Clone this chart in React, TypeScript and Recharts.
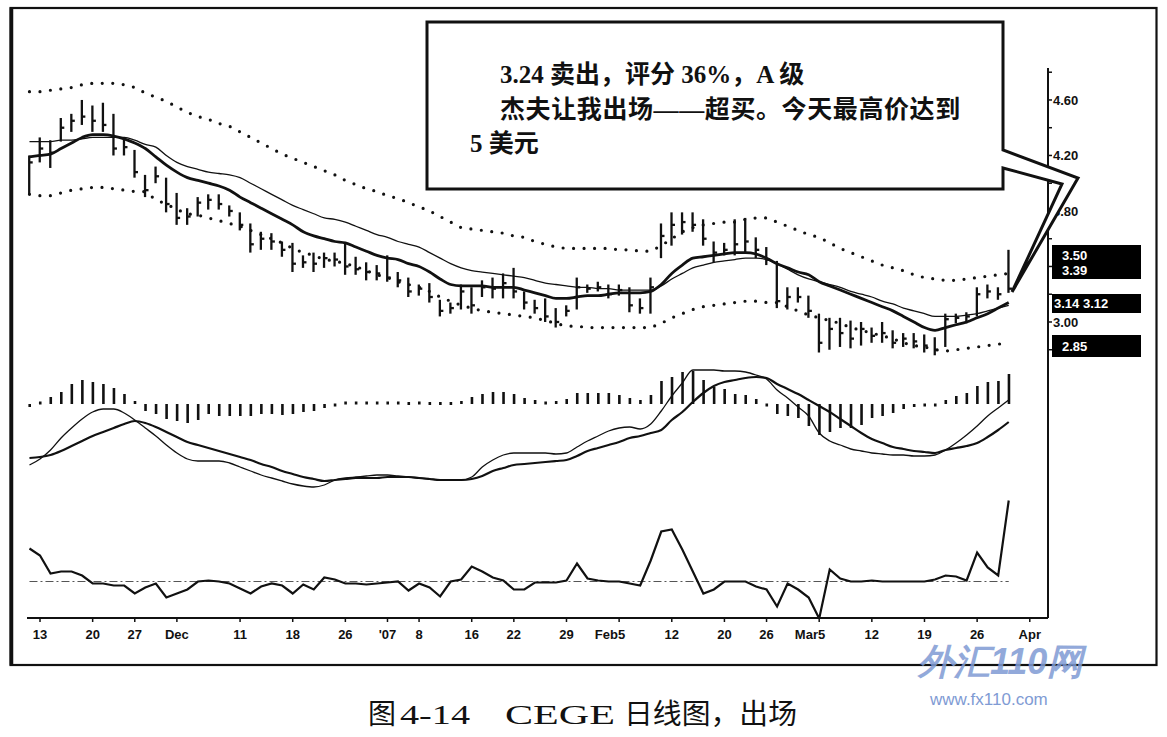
import React from 'react';
import { ComposedChart, Bar, Line, XAxis, YAxis, ReferenceLine } from 'recharts';

// trading-day index: 0 = Nov 13 2006, first bar is the Friday before
const firstDay = -1;

const highs = [
  4.20, 4.33, 4.31, 4.47, 4.50, 4.60, 4.56, 4.58, 4.50, 4.33,
  4.24, 4.06, 4.12, 4.04, 3.93, 3.82, 3.90, 3.92, 3.92, 3.84,
  3.79, 3.71, 3.65, 3.64, 3.58, 3.57, 3.48, 3.50, 3.50, 3.50,
  3.57, 3.47, 3.43, 3.41, 3.48, 3.36, 3.32, 3.27, 3.28, 3.16,
  3.14, 3.27, 3.25, 3.30, 3.32, 3.35, 3.39, 3.22, 3.16, 3.17,
  3.10, 3.12, 3.32, 3.27, 3.29, 3.27, 3.27, 3.25, 3.17, 3.32,
  3.71, 3.79, 3.79, 3.79, 3.74, 3.58, 3.57, 3.74, 3.75, 3.61,
  3.54, 3.44, 3.25, 3.25, 3.19, 3.06, 3.03, 3.03, 3.01, 3.00,
  2.96, 3.00, 2.94, 2.92, 2.92, 2.91, 2.89, 3.06, 3.06, 3.07,
  3.25, 3.27, 3.25, 3.52,
];
const lows = [
  3.92, 4.15, 4.11, 4.30, 4.37, 4.42, 4.37, 4.37, 4.20, 4.20,
  4.04, 3.90, 4.00, 3.79, 3.70, 3.70, 3.76, 3.81, 3.81, 3.76,
  3.66, 3.50, 3.52, 3.52, 3.47, 3.36, 3.39, 3.36, 3.39, 3.40,
  3.34, 3.34, 3.30, 3.30, 3.29, 3.25, 3.18, 3.19, 3.14, 3.04,
  3.06, 3.09, 3.06, 3.18, 3.17, 3.17, 3.17, 3.09, 3.06, 3.00,
  2.96, 3.04, 3.09, 3.21, 3.22, 3.17, 3.19, 3.07, 3.06, 3.06,
  3.46, 3.55, 3.63, 3.65, 3.55, 3.43, 3.48, 3.48, 3.50, 3.46,
  3.41, 3.10, 3.09, 3.14, 3.03, 2.78, 2.80, 2.82, 2.81, 2.83,
  2.85, 2.85, 2.81, 2.82, 2.81, 2.78, 2.76, 2.82, 2.99, 2.99,
  3.04, 3.17, 3.16, 3.21,
];
const closes = [
  4.15, 4.25, 4.22, 4.40, 4.45, 4.48, 4.45, 4.42, 4.25, 4.26,
  4.08, 3.95, 4.05, 3.85, 3.75, 3.76, 3.86, 3.88, 3.85, 3.80,
  3.70, 3.56, 3.60, 3.58, 3.52, 3.42, 3.43, 3.42, 3.46, 3.45,
  3.40, 3.38, 3.36, 3.35, 3.32, 3.30, 3.22, 3.24, 3.18, 3.08,
  3.10, 3.22, 3.12, 3.25, 3.24, 3.28, 3.22, 3.14, 3.10, 3.04,
  3.00, 3.08, 3.25, 3.24, 3.25, 3.20, 3.23, 3.12, 3.10, 3.25,
  3.62, 3.70, 3.72, 3.70, 3.60, 3.50, 3.52, 3.56, 3.58, 3.52,
  3.45, 3.15, 3.18, 3.18, 3.08, 2.85, 2.95, 2.92, 2.88, 2.95,
  2.90, 2.92, 2.85, 2.88, 2.86, 2.83, 2.80, 3.02, 3.03, 3.04,
  3.20, 3.22, 3.20, 3.24,
];
const fastMa = [
  4.19, 4.20, 4.21, 4.25, 4.29, 4.33, 4.35, 4.35, 4.34, 4.32,
  4.29, 4.25, 4.19, 4.13, 4.08, 4.04, 4.02, 4.00, 3.98, 3.95,
  3.90, 3.86, 3.82, 3.78, 3.74, 3.70, 3.65, 3.62, 3.60, 3.58,
  3.57, 3.54, 3.51, 3.48, 3.46, 3.45, 3.42, 3.40, 3.36, 3.31,
  3.27, 3.26, 3.26, 3.26, 3.25, 3.25, 3.25, 3.23, 3.21, 3.19,
  3.17, 3.17, 3.18, 3.19, 3.19, 3.20, 3.21, 3.21, 3.21, 3.22,
  3.27, 3.35, 3.41, 3.46, 3.47, 3.48, 3.49, 3.50, 3.50, 3.49,
  3.46, 3.42, 3.39, 3.36, 3.34, 3.29, 3.26, 3.23, 3.20, 3.17,
  3.14, 3.11, 3.08, 3.04, 3.00, 2.96, 2.94, 2.96, 2.98, 3.00,
  3.03, 3.06, 3.10, 3.14,
];
const slowMa = [
  4.30, 4.30, 4.30, 4.31, 4.31, 4.32, 4.33, 4.33, 4.33, 4.33,
  4.31, 4.28, 4.26, 4.20, 4.15, 4.12, 4.10, 4.08, 4.07, 4.06,
  4.04, 4.00, 3.96, 3.92, 3.88, 3.84, 3.81, 3.78, 3.75, 3.74,
  3.72, 3.69, 3.66, 3.63, 3.61, 3.58, 3.56, 3.54, 3.50, 3.46,
  3.42, 3.39, 3.37, 3.36, 3.35, 3.34, 3.33, 3.32, 3.30, 3.28,
  3.27, 3.26, 3.25, 3.25, 3.24, 3.24, 3.23, 3.23, 3.23, 3.23,
  3.26, 3.31, 3.35, 3.39, 3.41, 3.43, 3.44, 3.45, 3.46, 3.46,
  3.45, 3.42, 3.38, 3.34, 3.31, 3.29, 3.27, 3.25, 3.22, 3.20,
  3.18, 3.15, 3.13, 3.10, 3.08, 3.06, 3.04, 3.04, 3.04, 3.05,
  3.06, 3.08, 3.10, 3.12,
];
const upperBand = [
  4.66, 4.66, 4.67, 4.68, 4.69, 4.71, 4.72, 4.72, 4.72, 4.71,
  4.69, 4.65, 4.62, 4.59, 4.55, 4.51, 4.48, 4.46, 4.43, 4.41,
  4.37, 4.33, 4.29, 4.25, 4.21, 4.18, 4.15, 4.12, 4.09, 4.06,
  4.02, 3.99, 3.96, 3.94, 3.91, 3.89, 3.86, 3.83, 3.80, 3.76,
  3.72, 3.68, 3.67, 3.66, 3.65, 3.64, 3.62, 3.61, 3.58, 3.56,
  3.54, 3.53, 3.53, 3.53, 3.53, 3.53, 3.52, 3.52, 3.51, 3.51,
  3.55, 3.60, 3.65, 3.68, 3.70, 3.71, 3.72, 3.72, 3.74, 3.75,
  3.75, 3.72, 3.69, 3.66, 3.63, 3.61, 3.57, 3.53, 3.50, 3.47,
  3.44, 3.41, 3.39, 3.37, 3.34, 3.32, 3.31, 3.30, 3.30, 3.31,
  3.32, 3.33, 3.34, 3.35,
];
const lowerBand = [
  3.92, 3.91, 3.91, 3.93, 3.95, 3.96, 3.97, 3.97, 3.96, 3.95,
  3.94, 3.94, 3.88, 3.85, 3.81, 3.78, 3.77, 3.75, 3.73, 3.71,
  3.69, 3.66, 3.63, 3.60, 3.57, 3.53, 3.50, 3.48, 3.45, 3.44,
  3.42, 3.40, 3.37, 3.34, 3.32, 3.29, 3.27, 3.25, 3.22, 3.18,
  3.15, 3.12, 3.10, 3.08, 3.07, 3.06, 3.05, 3.04, 3.03, 3.01,
  2.99, 2.97, 2.97, 2.96, 2.96, 2.96, 2.96, 2.96, 2.96, 2.96,
  2.99, 3.03, 3.06, 3.09, 3.11, 3.12, 3.13, 3.14, 3.15, 3.15,
  3.14, 3.14, 3.11, 3.08, 3.05, 3.03, 3.01, 2.99, 2.96, 2.94,
  2.92, 2.90, 2.88, 2.85, 2.83, 2.82, 2.80, 2.79, 2.80, 2.81,
  2.82, 2.83, 2.84, 2.85,
];

// MACD panel, in thousandths
const macdHist = [
  -3, 2, 7, 12, 20, 24, 22, 20, 16, 10,
  3, -7, -10, -15, -17, -19, -16, -10, -12, -12,
  -12, -12, -10, -10, -11, -10, -8, -7, -4, -2,
  2, 2, 2, 2, 2, 2, 1, 2, 1, 1,
  1, 3, 7, 10, 12, 12, 10, 6, 4, 2,
  3, 5, 11, 11, 11, 11, 9, 6, 4, 9,
  23, 27, 32, 33, 24, 17, 15, 10, 9, 5,
  -2, -10, -12, -14, -22, -31, -28, -24, -24, -21,
  -14, -12, -9, -5, -3, -2, -2, 4, 8, 11,
  18, 22, 23, 30,
];
const macdLine = [
  -61, -55, -46, -34, -24, -15, -8, -5, -5, -9,
  -16, -24, -32, -41, -49, -55, -57, -57, -57, -59,
  -63, -67, -71, -74, -77, -80, -82, -83, -81, -76,
  -74, -73, -72, -71, -71, -72, -73, -74, -75, -76,
  -76, -76, -73, -63, -56, -51, -49, -49, -49, -49,
  -50, -49, -43, -37, -32, -27, -24, -23, -25, -20,
  -7, 8, 21, 34, 34, 34, 33, 33, 32, 29,
  25, 14, 6, -3, -12, -29, -37, -41, -45, -47,
  -49, -50, -51, -51, -52, -52, -51, -46, -39, -31,
  -22, -12, -4, 4,
];
const signalLine = [
  -54, -53, -51, -47, -42, -37, -32, -28, -24, -20,
  -17, -19, -23, -28, -33, -38, -41, -44, -47, -50,
  -53, -56, -60, -63, -67, -70, -73, -75, -77, -76,
  -75, -74, -74, -74, -73, -73, -73, -74, -75, -76,
  -76, -76, -75, -72, -67, -64, -61, -60, -59, -58,
  -57, -56, -52, -47, -44, -41, -38, -34, -32, -29,
  -26, -16, -8, 2, 11, 18, 22, 24, 26, 27,
  26, 20, 15, 10, 4, -2, -8, -15, -22, -29,
  -35, -39, -43, -45, -47, -48, -49, -46, -44, -42,
  -39, -33, -26, -18,
];
const forceIndex = [
  33, 26, 8, 10, 10, 6, -2, -2, -4, -4,
  -12, -6, -2, -16, -12, -8, 0, 1, 0, -2,
  -7, -12, -5, -2, -4, -12, -3, -8, 4, 2,
  -2, -2, -3, -2, -1, 0, -9, -2, -6, -15,
  0, 2, 15, 10, 4, 1, -8, -8, -1, -1,
  -1, 1, 18, 3, 1, 0, 0, -2, -4, 21,
  50, 52, 32, 10, -12, -8, 0, 0, 0, -5,
  -8, -25, -2, -8, -16, -37, 12, 3, 0, 0,
  1, 0, 0, 0, 0, 0, 2, 6, 5, 1,
  29, 14, 6, 81,
];

const dateTicks = [0, 5, 9, 13, 19, 24, 29, 33, 36, 41, 45, 50, 55, 60, 65, 69, 74, 79, 84, 89, 94];
const dateLabels = ['13', '20', '27', 'Dec', '11', '18', '26', "'07", '8', '16', '22', '29', 'Feb5', '12', '20', '26', 'Mar5', '12', '19', '26', 'Apr'];
const priceTicks = [2.8, 3.0, 3.2, 3.4, 3.6, 3.8, 4.0, 4.2, 4.4, 4.6, 4.8];
const priceLabels = ['3.00', '3.80', '4.20', '4.60'];

const rows = highs.map((h, k) => ({
  day: firstDay + k,
  range: [lows[k], h],
  close: closes[k],
  fast: fastMa[k],
  slow: slowMa[k],
  upper: upperBand[k],
  lower: lowerBand[k],
  hist: macdHist[k],
  macd: macdLine[k],
  signal: signalLine[k],
  force: forceIndex[k],
}));

const W = 1167;
const AXIS_X = 1048;
const X_DOMAIN: [number, number] = [-1.235, 95.73];
const margin = { top: 0, right: W - AXIS_X, left: 27, bottom: 0 };
const ink = '#111';
const sans = "'Liberation Sans', Arial, sans-serif";
const cjk = "'Liberation Serif', 'Noto Sans CJK SC', serif";

const OhlcBar = (props: any) => {
  const { x, y, width, height, payload } = props;
  const [lo, hi] = payload.range;
  const cx = x + width / 2;
  const cy = y + ((hi - payload.close) / (hi - lo)) * height;
  return (
    <g stroke={ink} strokeWidth={2.3}>
      <line x1={cx} x2={cx} y1={y} y2={y + height} />
      <line x1={cx} x2={cx + 3.5} y1={cy} y2={cy} />
    </g>
  );
};

const HistBar = (props: any) => {
  const { x, y, width, height } = props;
  const cx = x + width / 2;
  let y1 = Math.min(y, y + height);
  let y2 = Math.max(y, y + height);
  if (y2 - y1 < 3) {
    const m = (y1 + y2) / 2;
    y1 = m - 1.5;
    y2 = m + 1.5;
  }
  return <line x1={cx} x2={cx} y1={y1} y2={y2} stroke={ink} strokeWidth={2.6} />;
};

const PriceTick = (props: any) => {
  const { y, payload } = props;
  const label = payload.value.toFixed(2);
  return (
    <g>
      <line x1={AXIS_X} x2={AXIS_X + 4} y1={y} y2={y} stroke={ink} strokeWidth={1.5} />
      {priceLabels.includes(label) && (
        <text x={AXIS_X + 5} y={y + 5} fontSize={13} fontWeight="bold" fontFamily={sans} fill={ink}>
          {label}
        </text>
      )}
    </g>
  );
};

const DateTick = (props: any) => {
  const { x, y, payload } = props;
  const label = dateLabels[dateTicks.indexOf(payload.value)];
  const long = label.length > 3;
  return (
    <text
      x={long ? x + 6 : x}
      y={y}
      dy="0.71em"
      textAnchor={long ? 'end' : 'middle'}
      fontSize={13}
      fontWeight="bold"
      fontFamily={sans}
      fill={ink}
    >
      {label}
    </text>
  );
};

const dots = { strokeDasharray: '0 10.5', strokeLinecap: 'round' as const, strokeWidth: 3.2 };

export default function App() {
  return (
    <div style={{ position: 'absolute', left: 0, top: 0, width: W, height: 737, background: '#fff', fontFamily: sans }}>
      <div style={{ position: 'absolute', left: 0, top: 60 }}>
        <ComposedChart width={W} height={300} data={rows} margin={{ ...margin, right: 0 }}>
          <XAxis dataKey="day" type="number" domain={X_DOMAIN} hide allowDataOverflow />
          <YAxis
            orientation="right"
            width={W - AXIS_X}
            domain={[2.726, 4.888]}
            ticks={priceTicks}
            tick={PriceTick}
            axisLine={false}
            tickLine={false}
            allowDataOverflow
          />
          <Line dataKey="upper" stroke={ink} {...dots} dot={false} isAnimationActive={false} />
          <Line dataKey="lower" stroke={ink} {...dots} dot={false} isAnimationActive={false} />
          <Bar dataKey="range" barSize={6} shape={OhlcBar} isAnimationActive={false} />
          <Line type="monotone" dataKey="slow" stroke={ink} strokeWidth={1.3} dot={false} isAnimationActive={false} />
          <Line type="monotone" dataKey="fast" stroke={ink} strokeWidth={2.8} dot={false} isAnimationActive={false} />
        </ComposedChart>
      </div>

      <div style={{ position: 'absolute', left: 0, top: 365 }}>
        <ComposedChart width={W} height={130} data={rows} margin={margin}>
          <XAxis dataKey="day" type="number" domain={X_DOMAIN} hide allowDataOverflow />
          <YAxis hide domain={[-91, 39]} allowDataOverflow />
          <Bar dataKey="hist" barSize={3} shape={HistBar} isAnimationActive={false} />
          <Line type="monotone" dataKey="macd" stroke={ink} strokeWidth={1.3} dot={false} isAnimationActive={false} />
          <Line type="monotone" dataKey="signal" stroke={ink} strokeWidth={2.2} dot={false} isAnimationActive={false} />
        </ComposedChart>
      </div>

      <div style={{ position: 'absolute', left: 0, top: 495 }}>
        <ComposedChart width={W} height={155} data={rows} margin={margin}>
          <XAxis
            dataKey="day"
            type="number"
            domain={X_DOMAIN}
            ticks={dateTicks}
            interval={0}
            tick={DateTick}
            tickSize={4}
            tickMargin={8}
            height={32}
            axisLine={{ stroke: ink, strokeWidth: 2 }}
            tickLine={{ stroke: ink, strokeWidth: 1.5 }}
            allowDataOverflow
          />
          <YAxis hide domain={[-36.5, 86.5]} allowDataOverflow />
          <ReferenceLine
            segment={[{ x: -1, y: 0 }, { x: 92, y: 0 }]}
            stroke="#555"
            strokeWidth={1}
            strokeDasharray="8 3 2 3"
          />
          <Line dataKey="force" stroke={ink} strokeWidth={2.2} dot={false} isAnimationActive={false} />
        </ComposedChart>
      </div>

      <svg width={W} height={737} style={{ position: 'absolute', left: 0, top: 0 }}>
        <rect x={10.5} y={8} width={1146} height={657} fill="none" stroke={ink} strokeWidth={2.2} />
        <line x1={11.5} x2={11.5} y1={8} y2={665} stroke={ink} strokeWidth={3.5} />
        <line x1={AXIS_X} x2={AXIS_X} y1={68} y2={618} stroke={ink} strokeWidth={2} />

        <polygon
          points="427,22 1003,22 1003,150 1078,178 1012,292 1062,184 1003,168 1003,189 427,189"
          fill="#fff"
          stroke={ink}
          strokeWidth={3}
        />
        <g fontFamily={cjk} fontWeight="bold" fontSize={25} fill={ink}>
          <text x={500} y={83}>3.24 卖出，评分 36%，A 级</text>
          <text x={500} y={118} letterSpacing={0.6}>杰夫让我出场——超买。今天最高价达到</text>
          <text x={470} y={152}>5 美元</text>
        </g>

        <g fontFamily={sans} fontWeight="bold" fontSize={13} fill="#fff">
          <rect x={1052} y={245} width={89} height={34} fill="#000" />
          <text x={1062} y={260}>3.50</text>
          <text x={1062} y={275}>3.39</text>
          <rect x={1052} y={294} width={89} height={19} fill="#000" />
          <text x={1054} y={308}>3.14 3.12</text>
          <rect x={1052} y={335} width={89} height={22} fill="#000" />
          <text x={1062} y={351}>2.85</text>
        </g>

        <g fill="#7f9bd4" fontFamily={sans}>
          <text x={918} y={674} fontSize={36} fontWeight="bold" fontStyle="italic" opacity={0.85}>外汇110网</text>
          <text x={930} y={705} fontSize={17}>www.fx110.com</text>
        </g>

        <text y={724} fontSize={28} fontFamily={cjk} fill={ink}>
          <tspan x={368}>图</tspan>
          <tspan x={400} textLength={70} lengthAdjust="spacingAndGlyphs">4-14</tspan>
          <tspan x={505} textLength={110} lengthAdjust="spacingAndGlyphs">CEGE</tspan>
          <tspan x={624} textLength={173} lengthAdjust="spacingAndGlyphs">日线图，出场</tspan>
        </text>
      </svg>
    </div>
  );
}
